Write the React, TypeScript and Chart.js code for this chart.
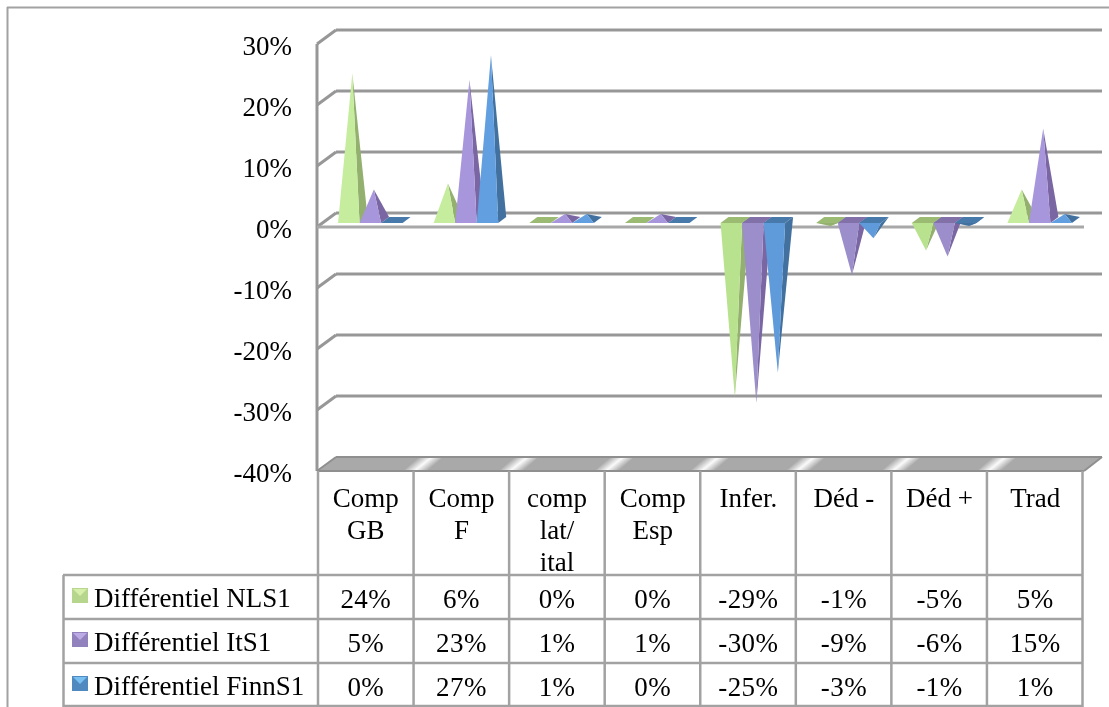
import React, { useEffect, useRef } from "react";
import { Chart, registerables } from "chart.js";

Chart.register(...registerables);

const categories: string[][] = [["Comp", "GB"], ["Comp", "F"], ["comp", "lat/", "ital"], ["Comp", "Esp"], ["Infer."], ["Déd -"], ["Déd +"], ["Trad"]];
const nlsValues = [24, 6, 0, 0, -29, -1, -5, 5];
const itValues = [5, 23, 1, 1, -30, -9, -6, 15];
const finnValues = [0, 27, 1, 0, -25, -3, -1, 1];
const seriesNames = ["Différentiel NLS1", "Différentiel ItS1", "Différentiel FinnS1"];

const FONT = '27px "Liberation Serif"';
const LINE = "#a2a2a2";
const GRID = "#979797";
const palette = [
  { front: "#c6ec9e", side: "#93b06f", top: "#9bbb73", neg: "#b9e28f", swA: "#d6f0ac", swB: "#b5d68c" },
  { front: "#a896dc", side: "#7a66a2", top: "#8270a8", neg: "#9c8ecb", swA: "#bbaae3", swB: "#9181bd" },
  { front: "#619fe0", side: "#42719f", top: "#4779ab", neg: "#5f9adb", swA: "#78c0f0", swB: "#5089c0" },
];

const poly = (ctx: CanvasRenderingContext2D, pts: number[][], fill: any) => {
  ctx.beginPath();
  pts.forEach((p, i) => (i ? ctx.lineTo(p[0], p[1]) : ctx.moveTo(p[0], p[1])));
  ctx.closePath();
  ctx.fillStyle = fill;
  ctx.fill();
};

const seg = (ctx: CanvasRenderingContext2D, x1: number, y1: number, x2: number, y2: number, color: string, w: number) => {
  ctx.beginPath();
  ctx.moveTo(x1, y1);
  ctx.lineTo(x2, y2);
  ctx.strokeStyle = color;
  ctx.lineWidth = w;
  ctx.stroke();
};

const DX = 19;
const DY = 14;

const wallsPlugin = {
  id: "walls",
  beforeDatasetsDraw(chart: any) {
    const { ctx, scales } = chart;
    const y = scales.y;
    const left = 317;
    const right = 1084;
    ctx.save();
    seg(ctx, 7.5, 7, 7.5, 707, LINE, 2);
    seg(ctx, 7, 7.5, 1109, 7.5, LINE, 2);
    y.ticks.forEach((t: any) => {
      const py = y.getPixelForValue(t.value);
      if (t.value === -40) return;
      seg(ctx, left, py, left + DX, py - DY, GRID, 3);
      seg(ctx, left + DX, py - DY, right + 18, py - DY, GRID, 3);
    });
    seg(ctx, left, y.getPixelForValue(30), left, y.getPixelForValue(-40), GRID, 3);
    const fy = y.getPixelForValue(-40);
    poly(ctx, [[left + 1, fy], [right, fy], [right + 18, fy - DY], [left + DX, fy - DY]], "#a9a9a9");
    const xs = scales.x;
    for (let i = 1; i < categories.length; i++) {
      const cx = (xs.getPixelForTick(i - 1) + xs.getPixelForTick(i)) / 2;
      const mx = cx + 9.5;
      const my = fy - 7;
      const g = ctx.createLinearGradient(mx - 5, my - 6.2, mx + 5, my + 6.2);
      g.addColorStop(0, "rgba(255,255,255,0)");
      g.addColorStop(0.5, "rgba(255,255,255,0.95)");
      g.addColorStop(1, "rgba(255,255,255,0)");
      poly(ctx, [[cx - 10, fy], [cx + 14, fy], [cx + 29, fy - DY], [cx + 5, fy - DY]], g);
    }
    seg(ctx, left + DX, fy - DY, right + 18, fy - DY, "#8f8f8f", 2);
    seg(ctx, left, fy, left + DX, fy - DY, "#8f8f8f", 2);
    seg(ctx, right, fy, right + 18, fy - DY, "#8f8f8f", 2);
    seg(ctx, left, fy, right, fy, "#8f8f8f", 2);
    seg(ctx, left, y.getPixelForValue(0), right, y.getPixelForValue(0), "#a8a8a8", 3);
    ctx.restore();
  },
};

const pyramidsPlugin = {
  id: "pyramids",
  afterDatasetsDraw(chart: any) {
    const { ctx } = chart;
    ctx.save();
    chart.data.datasets.forEach((ds: any, d: number) => {
      const c = palette[d];
      chart.getDatasetMeta(d).data.forEach((el: any, i: number) => {
        const v = ds.data[i];
        const cx = el.x + 4.5;
        const hw = el.width / 2;
        const base = el.base - 4;
        const fl = [cx - hw, base];
        const fr = [cx + hw, base];
        const br = [cx + hw + 8, base - 6];
        const bl = [cx - hw + 8, base - 6];
        const apex = [cx + 3.5, el.y - 7];
        if (v === 0) {
          poly(ctx, [fl, fr, br, bl], c.top);
        } else if (v > 0) {
          poly(ctx, [fr, br, apex], c.side);
          poly(ctx, [fl, fr, apex], c.front);
        } else {
          poly(ctx, [fr, br, apex], c.side);
          poly(ctx, [fl, fr, apex], v > -2 ? c.side : c.neg);
          poly(ctx, [fl, fr, br, bl], c.top);
        }
      });
    });
    ctx.restore();
  },
};

const tablePlugin = {
  id: "dataTable",
  afterDraw(chart: any) {
    const { ctx, scales } = chart;
    const xs = scales.x;
    const tableLeft = 318;
    const tableRight = 1082.5;
    const top = 471;
    const rows = [575, 619, 663, 706];
    ctx.save();
    const colW = (tableRight - tableLeft) / categories.length;
    for (let i = 0; i <= categories.length; i++) {
      seg(ctx, tableLeft + colW * i, top, tableLeft + colW * i, 707, LINE, 2.5);
    }
    seg(ctx, 63.5, 575, 63.5, 707, LINE, 2.5);
    rows.forEach((r) => seg(ctx, 63, r, tableRight, r, LINE, 2.5));
    ctx.font = FONT;
    ctx.fillStyle = "#000";
    ctx.textBaseline = "alphabetic";
    const valueBase = [608, 652, 696];
    const labelBase = [607, 651, 695];
    chart.data.datasets.forEach((ds: any, d: number) => {
      ctx.textAlign = "left";
      ctx.fillStyle = "#000";
      (ctx as any).letterSpacing = "0px";
      ctx.fillText(ds.label, 94, labelBase[d]);
      (ctx as any).letterSpacing = "0.4px";
      ctx.textAlign = "center";
      ds.data.forEach((v: number, i: number) => ctx.fillText(`${v}%`, xs.getPixelForTick(i), valueBase[d]));
      const c = palette[d];
      const sx = 72;
      const sy = rows[d] + 13;
      poly(ctx, [[sx, sy], [sx + 16, sy], [sx + 16, sy + 15], [sx, sy + 15]], c.swB);
      poly(ctx, [[sx + 1, sy + 1], [sx + 15, sy + 1], [sx + 8, sy + 8]], c.swA);
    });
    ctx.restore();
  },
};

export default function App() {
  const ref = useRef<HTMLCanvasElement>(null);
  useEffect(() => {
    if (!ref.current) return;
    const chart = new Chart(ref.current, {
      type: "bar",
      data: {
        labels: categories as any,
        datasets: [nlsValues, itValues, finnValues].map((data, i) => ({
          label: seriesNames[i],
          data,
          backgroundColor: "rgba(0,0,0,0)",
          categoryPercentage: 0.675,
          barPercentage: 1,
        })),
      },
      options: {
        responsive: false,
        animation: false,
        devicePixelRatio: 1,
        layout: { padding: { top: 44, bottom: 0, left: 0, right: 26 } },
        plugins: { legend: { display: false }, title: { display: false }, tooltip: { enabled: false } },
        scales: {
          x: {
            grid: { display: false },
            border: { display: false },
            afterFit(scale: any) { scale.height = 236; },
            ticks: {
              autoSkip: false,
              maxRotation: 0,
              minRotation: 0,
              padding: 5,
              color: "#000",
              font: { family: "Liberation Serif", size: 27, lineHeight: 1.185 },
            },
          },
          y: {
            min: -40,
            max: 30,
            grid: { display: false },
            border: { display: false },
            afterFit(scale: any) { scale.width = 318; },
            ticks: {
              stepSize: 10,
              padding: 18,
              labelOffset: 4,
              color: "#000",
              font: { family: "Liberation Serif", size: 27 },
              callback: (v: any) => `${v}%`,
            },
          },
        },
      },
      plugins: [wallsPlugin, pyramidsPlugin, tablePlugin],
    } as any);
    return () => chart.destroy();
  }, []);
  return (
    <canvas ref={ref} width={1109} height={707} style={{ position: "absolute", left: 0, top: 0, display: "block" }} />
  );
}
